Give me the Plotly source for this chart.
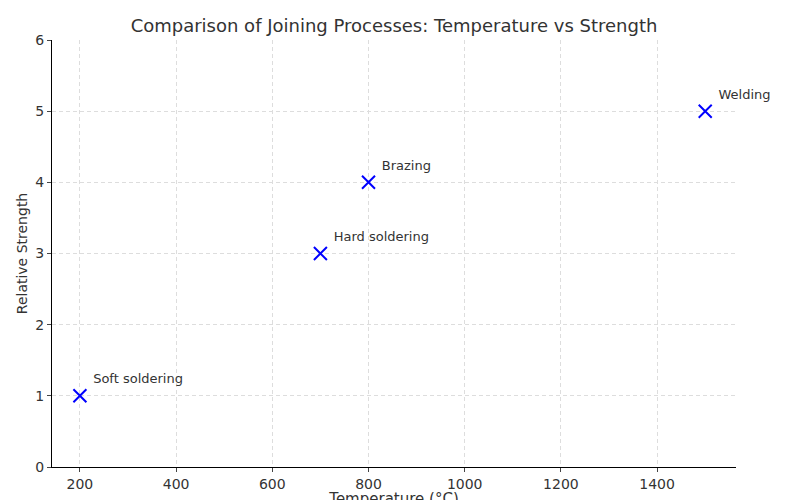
import plotly.graph_objects as go

processes = ["Soft soldering", "Hard soldering", "Brazing", "Welding"]
temperatures = [200, 700, 800, 1500]
strengths = [1, 3, 4, 5]

fig = go.Figure(go.Scatter(
    x=temperatures, y=strengths, mode="markers+text",
    marker=dict(symbol="x-thin", size=13, line=dict(color="blue", width=2), color="blue"),
    text=[" " + p for p in processes], textposition="top right",
    textfont=dict(family="DejaVu Sans", size=13, color="#333"),
    cliponaxis=False,
))
fig.update_layout(
    width=800, height=500, plot_bgcolor="white", paper_bgcolor="white",
    margin=dict(l=44, r=72, t=32, b=41),
    font=dict(family="DejaVu Sans", color="#333"),
    title=dict(text="Comparison of Joining Processes: Temperature vs Strength",
               x=0.5, xref="paper", y=0.965, yanchor="middle", font=dict(size=18)),
    showlegend=False,
)
common = dict(showgrid=True, gridcolor="#ddd", griddash="4px,3px", zeroline=False,
              showline=True, linecolor="black", ticks="outside", ticklen=4,
              tickfont=dict(size=14), automargin=False)
fig.update_xaxes(range=[142, 1564], tickvals=[200,400,600,800,1000,1200,1400],
                 title=dict(text="Temperature (°C)", font=dict(size=15), standoff=4), **common)
fig.update_yaxes(range=[0, 6], dtick=1,
                 title=dict(text="Relative Strength", font=dict(size=14), standoff=4), **common)
fig.write_html("out.html")
